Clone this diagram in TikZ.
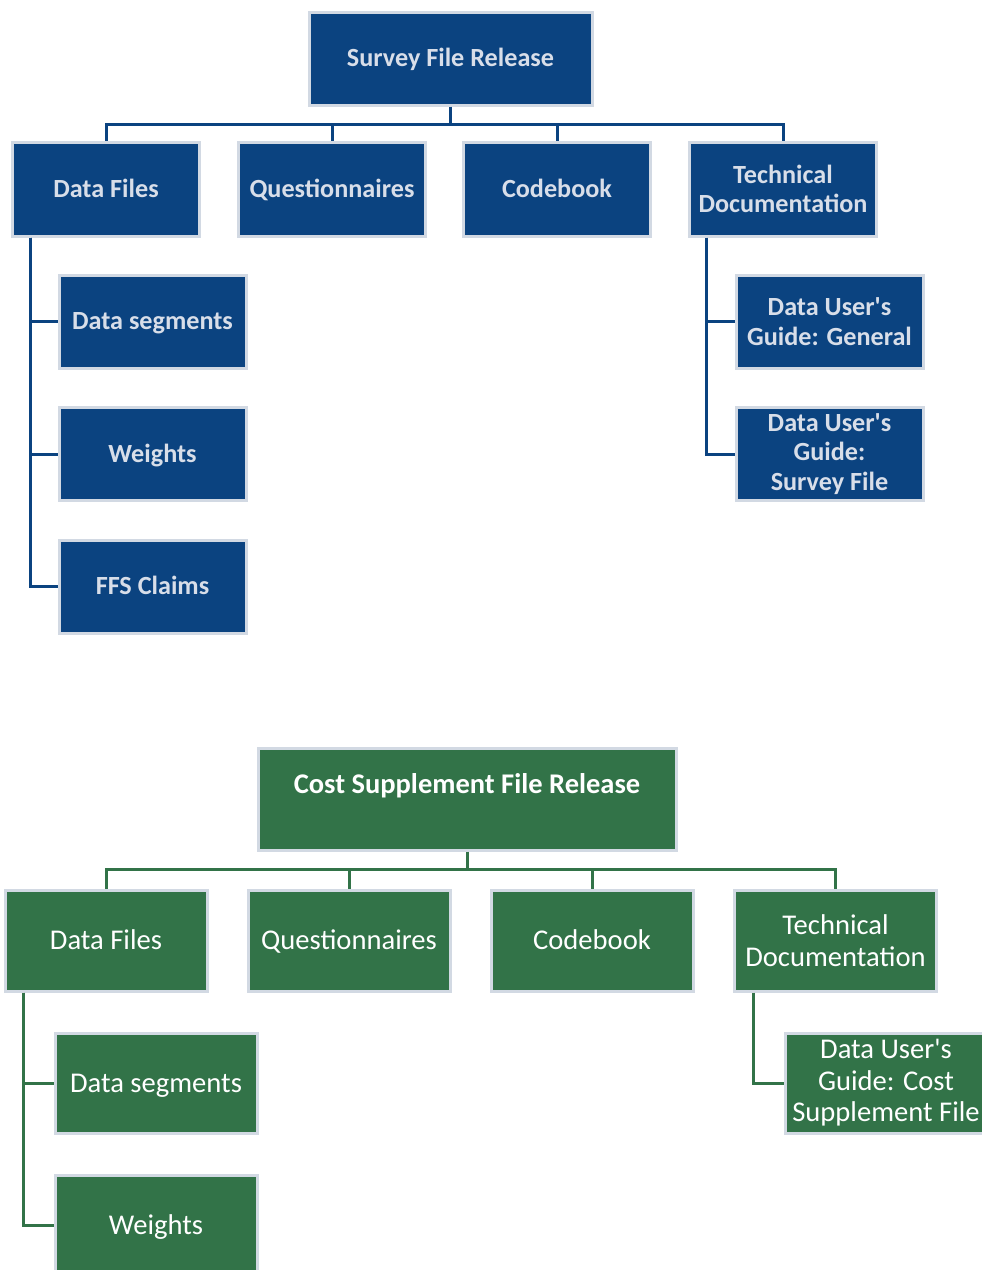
\documentclass[tikz,border=0pt]{standalone}
\usepackage{fontspec}
\setmainfont{Carlito}
\definecolor{navy}{HTML}{0B4380}
\definecolor{forest}{HTML}{327348}
\definecolor{rim}{HTML}{D2D9E3}
\definecolor{paletext}{HTML}{D8DEE9}
\newcommand{\apos}{\textquotesingle}
\tikzset{
  orgbox/.style={rectangle, draw=rim, line width=3, inner sep=0pt, align=center},
  bluebox/.style={orgbox, fill=navy, text=paletext,
    font=\fontsize{26.2}{29.5}\selectfont\bfseries},
  greenbox/.style={orgbox, fill=forest, text=white,
    font=\fontsize{28.6}{31.5}\selectfont},
  % one-line labels: centre the capitals in the box
  blueone/.style={bluebox, text height=18.9pt, text depth=2.1pt},
  greenone/.style={greenbox, text height=20.6pt, text depth=2.3pt},
  bluelink/.style={draw=navy, line width=3},
  greenlink/.style={draw=forest, line width=3},
}
\begin{document}
\begin{tikzpicture}[x=1pt, y=-1pt]
\useasboundingbox (0,0) rectangle (982,1270);
\clip (0,0) rectangle (982,1270);
\fill[white] (0,0) rectangle (982,1270);

% ---------- Survey file release ----------
\node[blueone, minimum width=283, minimum height=93] (srel) at (450.5,58.5) {Survey File Release};
\coordinate (sbus) at (450,124);

\node[blueone, minimum width=187, minimum height=94] (sdf)  at (106,189) {Data Files};
\node[blueone, minimum width=187, minimum height=94] (sq)   at (332,189) {Questionnaires};
\node[blueone, minimum width=187, minimum height=94] (scb)  at (557,189) {Codebook};
\node[bluebox, minimum width=187, minimum height=94] (std)  at (783,189) {Technical\\Documentation};

\node[blueone, minimum width=187, minimum height=93] (sseg) at (152.5,321.5) {Data segments};
\node[blueone, minimum width=187, minimum height=93] (swt)  at (152.5,454)   {Weights};
\node[blueone, minimum width=187, minimum height=93] (sffs) at (152.5,586.5) {FFS Claims};

\node[bluebox, minimum width=187, minimum height=93] (sgen) at (829.5,321.5) {Data User\apos s\\Guide: General};
\node[bluebox, minimum width=187, minimum height=93] (ssf)  at (829.5,454)   {Data User\apos s\\Guide:\\Survey File};

\draw[bluelink] (srel.south) -- (srel.south |- sbus);
\foreach \c in {sdf,sq,scb,std}
  \draw[bluelink] (srel.south |- sbus) -| (\c.north);
\foreach \c in {sseg,swt,sffs}
  \draw[bluelink] ([xshift=19]sdf.south west) |- (\c.west);
\foreach \c in {sgen,ssf}
  \draw[bluelink] ([xshift=18]std.south west) |- (\c.west);

% ---------- Cost supplement file release ----------
\node[greenbox, font=\fontsize{28.5}{31.5}\selectfont\bfseries,
      minimum width=418, minimum height=102] (crel) at (467,799)
      {Cost Supplement File Release\\\mbox{}};
\coordinate (cbus) at (467,869);

\node[greenone, minimum width=202, minimum height=101] (cdf) at (106,940.5)   {Data Files};
\node[greenone, minimum width=202, minimum height=101] (cq)  at (349,940.5)   {Questionnaires};
\node[greenone, minimum width=202, minimum height=101] (ccb) at (592,940.5)   {Codebook};
\node[greenbox, minimum width=202, minimum height=101] (ctd) at (835.5,940.5) {Technical\\Documentation};

\node[greenone, minimum width=202, minimum height=100] (cseg) at (156,1083) {Data segments};
\node[greenone, minimum width=202, minimum height=100] (cwt)  at (156,1225) {Weights};

\node[greenbox, minimum width=202, minimum height=100] (ccs) at (886,1083) {Data User\apos s\\Guide: Cost\\Supplement File};

\draw[greenlink] (crel.south) -- (crel.south |- cbus);
\foreach \c in {cdf,cq,ccb,ctd}
  \draw[greenlink] (crel.south |- cbus) -| (\c.north);
\foreach \c in {cseg,cwt}
  \draw[greenlink] ([xshift=20]cdf.south west) |- (\c.west);
\draw[greenlink] ([xshift=20]ctd.south west) |- (ccs.west);
\end{tikzpicture}
\end{document}
